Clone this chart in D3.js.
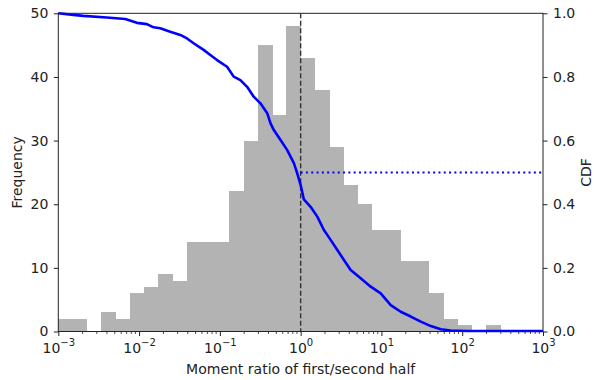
<!DOCTYPE html>
<meta charset="utf-8">
<style>
body { margin: 0; background: #fff; }
text { font-family: "DejaVu Sans", sans-serif; fill: #222; }
.axis path, .axis line { stroke: #222; }
.bar { fill: #b3b3b3; shape-rendering: crispEdges; }
</style>
<svg width="594" height="380"></svg>
<script src="https://d3js.org/d3.v7.min.js"></script>
<script>
// histogram counts, 34 log-spaced bins between 1e-3 and 1e3
var binEdgesExp = [-3, 3];
var counts = [2, 2, 0, 3, 2, 6, 7, 9, 8, 14, 14, 14, 22, 30, 45, 34, 48,
              43, 38, 29, 23, 20, 16, 16, 11, 11, 6, 2, 1, 0, 1, 0, 0, 0];

// survival curve (x as log10 of the ratio)
var cdfLogX = [-3.0, -2.814, -2.690, -2.400, -2.172, -2.027, -1.903, -1.821,
               -1.738, -1.614, -1.490, -1.407, -1.325, -1.201, -1.118, -1.035,
               -0.911, -0.829, -0.746, -0.663, -0.581, -0.498, -0.414, -0.373,
               -0.332, -0.249, -0.166, -0.084, -0.042, 0.0, 0.040, 0.123, 0.206,
               0.288, 0.371, 0.454, 0.536, 0.619, 0.743, 0.867, 0.991, 1.115,
               1.239, 1.363, 1.487, 1.611, 1.735, 1.859, 2.067, 3.0];
var cdfY = [1.0, 0.995, 0.992, 0.987, 0.982, 0.970, 0.966, 0.956, 0.953, 0.942,
            0.932, 0.921, 0.906, 0.885, 0.869, 0.853, 0.832, 0.801, 0.790, 0.769,
            0.738, 0.717, 0.686, 0.654, 0.633, 0.602, 0.570, 0.529, 0.497, 0.460,
            0.415, 0.392, 0.361, 0.319, 0.288, 0.256, 0.225, 0.193, 0.167, 0.141,
            0.120, 0.083, 0.062, 0.047, 0.031, 0.017, 0.007, 0.003, 0.0015, 0.0015];

var xTicks = [1e-3, 1e-2, 1e-1, 1e0, 1e1, 1e2, 1e3];
var xTickExp = ["\u22123", "\u22122", "\u22121", "0", "1", "2", "3"];
var freqTicks = [0, 10, 20, 30, 40, 50];
var cdfTicks = [0, 0.2, 0.4, 0.6, 0.8, 1.0];

var svg = d3.select("svg"),
    margin = {top: 13.3, right: 51, bottom: 48.5, left: 58.3},
    width = +svg.attr("width") - margin.left - margin.right,
    height = +svg.attr("height") - margin.top - margin.bottom;

var x = d3.scaleLog().domain([1e-3, 1e3]).range([0, width]),
    y = d3.scaleLinear().domain([0, 50]).range([height, 0]),
    y2 = d3.scaleLinear().domain([0, 1]).range([height, 0]);

var g = svg.append("g")
    .attr("transform", "translate(" + margin.left + "," + margin.top + ")");

// bins
var nb = counts.length;
var step = (binEdgesExp[1] - binEdgesExp[0]) / nb;
var bins = counts.map(function(c, i) {
  return {x0: Math.pow(10, binEdgesExp[0] + i * step),
          x1: Math.pow(10, binEdgesExp[0] + (i + 1) * step), n: c};
});

g.selectAll(".bar")
  .data(bins.filter(function(d) { return d.n > 0; }))
  .enter().append("rect")
    .attr("class", "bar")
    .attr("x", function(d) { return x(d.x0); })
    .attr("y", function(d) { return y(d.n); })
    .attr("width", function(d) { return x(d.x1) - x(d.x0) + 0.5; })
    .attr("height", function(d) { return height - y(d.n); });

// vertical dashed line at 1
g.append("line")
    .attr("x1", x(1)).attr("x2", x(1))
    .attr("y1", 0).attr("y2", height)
    .attr("stroke", "#333")
    .attr("stroke-width", 1.4)
    .attr("stroke-dasharray", "5,2.5");

// CDF line
var pts = cdfLogX.map(function(v, i) { return [Math.pow(10, v), cdfY[i]]; });
g.append("path")
    .datum(pts)
    .attr("fill", "none")
    .attr("stroke", "#0000ff")
    .attr("stroke-width", 2.6)
    .attr("stroke-linejoin", "round")
    .attr("d", d3.line()
        .x(function(d) { return x(d[0]); })
        .y(function(d) { return y2(d[1]); }));

// dotted median line
g.append("line")
    .attr("x1", x(1)).attr("x2", x(1e3))
    .attr("y1", y2(0.5)).attr("y2", y2(0.5))
    .attr("stroke", "#0000ff")
    .attr("stroke-width", 2)
    .attr("stroke-dasharray", "2,3.3");

// frame
g.append("rect")
    .attr("width", width).attr("height", height)
    .attr("fill", "none").attr("stroke", "#222").attr("stroke-width", 1);

// x axis
var xAxis = g.append("g")
    .attr("class", "axis")
    .attr("transform", "translate(0," + height + ")")
    .call(d3.axisBottom(x).tickValues(xTicks).tickSize(4.5).tickFormat(""));
xAxis.select(".domain").remove();
xAxis.selectAll(".tick text").remove();
xAxis.selectAll(".tick").append("text")
    .attr("y", 21)
    .attr("text-anchor", "middle")
    .style("font-size", "14px")
    .each(function(d, i) {
      var t = d3.select(this);
      t.append("tspan").text("10");
      t.append("tspan").attr("dy", -6.5).style("font-size", "10px").text(xTickExp[i]);
    });

// minor ticks
var minor = [];
xTicks.slice(0, -1).forEach(function(t) {
  for (var k = 2; k < 10; k++) minor.push(t * k);
});
g.append("g")
    .selectAll("line")
    .data(minor)
    .enter().append("line")
    .attr("x1", function(d) { return x(d); }).attr("x2", function(d) { return x(d); })
    .attr("y1", height).attr("y2", height + 2.5)
    .attr("stroke", "#222").attr("stroke-width", 0.8);

// left axis
var yAxis = g.append("g")
    .attr("class", "axis")
    .call(d3.axisLeft(y).tickValues(freqTicks).tickSize(4.5).tickPadding(5.5));
yAxis.select(".domain").remove();
yAxis.selectAll("text").style("font-size", "14px");

// right axis
var yAxis2 = g.append("g")
    .attr("class", "axis")
    .attr("transform", "translate(" + width + ",0)")
    .call(d3.axisRight(y2).tickValues(cdfTicks).tickSize(4.5).tickPadding(5.5)
      .tickFormat(d3.format(".1f")));
yAxis2.select(".domain").remove();
yAxis2.selectAll("text").style("font-size", "14px");

// labels
svg.append("text")
    .attr("x", margin.left + width / 2)
    .attr("y", 374)
    .attr("text-anchor", "middle")
    .style("font-size", "14px")
    .text("Moment ratio of first/second half");

svg.append("text")
    .attr("transform", "translate(21.5," + (margin.top + height / 2) + ") rotate(-90)")
    .attr("text-anchor", "middle")
    .style("font-size", "14px")
    .text("Frequency");

svg.append("text")
    .attr("transform", "translate(591," + (margin.top + height / 2) + ") rotate(-90)")
    .attr("text-anchor", "middle")
    .style("font-size", "14px")
    .text("CDF");
</script>
